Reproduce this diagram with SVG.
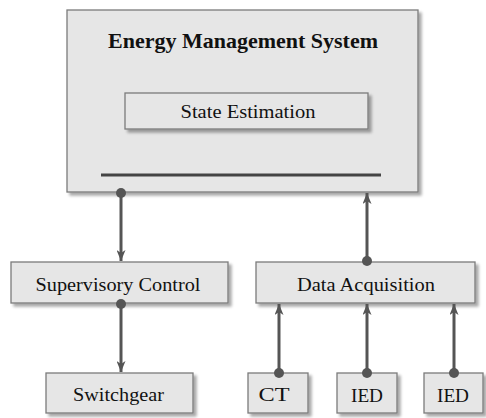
<svg xmlns="http://www.w3.org/2000/svg" width="486" height="418" viewBox="0 0 486 418">
<style>
.box{fill:#e6e6e6;stroke:#7c7c7c;stroke-width:1.3;filter:url(#sh)}
.lbl{font-family:"Liberation Serif","Times New Roman",serif;font-size:18.5px;fill:#111;text-anchor:middle}
.ttl{font-family:"Liberation Serif","Times New Roman",serif;font-size:21px;font-weight:bold;fill:#111;text-anchor:middle}
.con{stroke:#555;stroke-width:3;fill:none}
.dot{fill:#555}
</style>
<defs>
<filter id="sh" x="-10%" y="-10%" width="130%" height="140%">
<feGaussianBlur in="SourceAlpha" stdDeviation="1.5"/>
<feOffset dx="3" dy="3" result="b"/>
<feComponentTransfer><feFuncA type="linear" slope="0.35"/></feComponentTransfer>
<feMerge><feMergeNode/><feMergeNode in="SourceGraphic"/></feMerge>
</filter>
<marker id="arr" viewBox="0 0 11 9" refX="11" refY="4.5" markerWidth="11" markerHeight="9" markerUnits="userSpaceOnUse" orient="auto">
<path d="M0,0 L11,4.5 L0,9 L3,4.5 z" fill="#555"/>
</marker>
</defs>
<rect width="486" height="418" fill="#fff"/>
<g id="ems">
<rect class="box" x="67" y="10" width="351" height="182"/>
<text class="ttl" x="243" y="48" textLength="270" lengthAdjust="spacingAndGlyphs">Energy Management System</text>
<line x1="101" y1="175" x2="381" y2="175" stroke="#444" stroke-width="3"/>
</g>
<g id="state-estimation">
<rect class="box" x="125" y="93" width="243" height="36"/>
<text class="lbl" x="248" y="118" textLength="135" lengthAdjust="spacingAndGlyphs">State Estimation</text>
</g>
<g id="supervisory-control">
<rect class="box" x="11" y="262" width="217" height="41"/>
<text class="lbl" x="118" y="291" textLength="165" lengthAdjust="spacingAndGlyphs">Supervisory Control</text>
</g>
<g id="data-acquisition">
<rect class="box" x="256" y="262" width="219" height="41"/>
<text class="lbl" x="366" y="291" textLength="138" lengthAdjust="spacingAndGlyphs">Data Acquisition</text>
</g>
<g id="switchgear">
<rect class="box" x="46" y="373" width="147" height="40"/>
<text class="lbl" x="118.5" y="401" textLength="91" lengthAdjust="spacingAndGlyphs">Switchgear</text>
</g>
<g id="ct">
<rect class="box" x="248" y="373" width="60" height="40"/>
<text class="lbl" x="274" y="401" textLength="31" lengthAdjust="spacingAndGlyphs">CT</text>
</g>
<g id="ied1">
<rect class="box" x="337" y="373" width="60" height="40"/>
<text class="lbl" x="367" y="402" textLength="32" lengthAdjust="spacingAndGlyphs">IED</text>
</g>
<g id="ied2">
<rect class="box" x="424" y="373" width="59" height="40"/>
<text class="lbl" x="453" y="402" textLength="32" lengthAdjust="spacingAndGlyphs">IED</text>
</g>
<g id="connectors">
<line class="con" x1="121" y1="193" x2="121" y2="261" marker-end="url(#arr)"/>
<circle class="dot" cx="121" cy="193" r="5"/>
<line class="con" x1="121" y1="304" x2="121" y2="372" marker-end="url(#arr)"/>
<circle class="dot" cx="121" cy="304" r="5"/>
<line class="con" x1="367" y1="261" x2="367" y2="193" marker-end="url(#arr)"/>
<circle class="dot" cx="367" cy="261" r="5"/>
<line class="con" x1="279" y1="373" x2="279" y2="304" marker-end="url(#arr)"/>
<circle class="dot" cx="279" cy="373" r="5"/>
<line class="con" x1="367" y1="373" x2="367" y2="304" marker-end="url(#arr)"/>
<circle class="dot" cx="367" cy="373" r="5"/>
<line class="con" x1="454" y1="373" x2="454" y2="304" marker-end="url(#arr)"/>
<circle class="dot" cx="454" cy="373" r="5"/>
</g>
</svg>
